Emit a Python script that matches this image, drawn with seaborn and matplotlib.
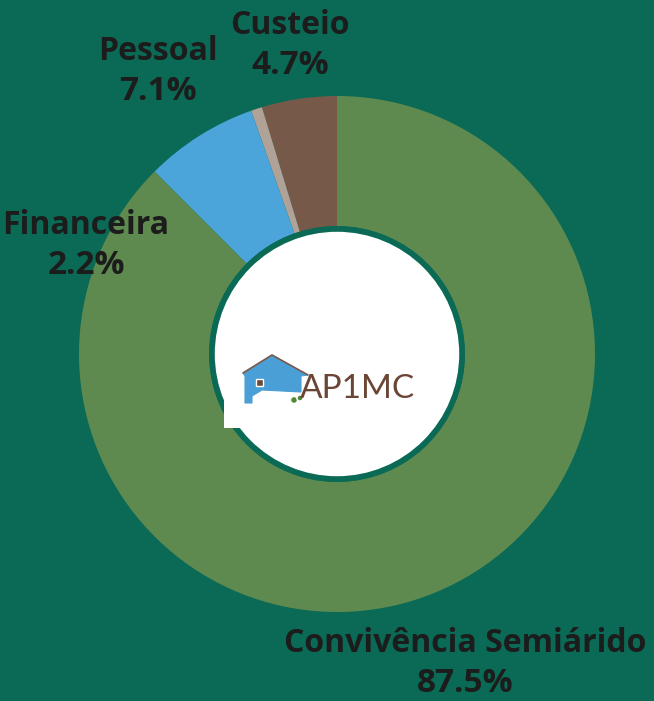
import seaborn as sns
import matplotlib.pyplot as plt
from matplotlib.patches import Circle, Rectangle, Polygon

# Dados (fatias no sentido anti-horário a partir do topo)
categorias = ['Custeio', 'Financeira', 'Pessoal', 'Convivência Semiárido']
valores = [4.7, 0.7, 7.1, 87.5]
rotulos_pct = ['4.7%', '2.2%', '7.1%', '87.5%']
cores = ['#765948', '#b1a298', '#4ba5da', '#5e8a50']

fundo = '#0a6a55'
W, H = 654, 701

sns.set_style('white')
plt.rcParams['font.family'] = ['Open Sans', 'DejaVu Sans']

fig = plt.figure(figsize=(W / 100, H / 100), dpi=100, facecolor=fundo)
ax = fig.add_axes([0, 0, 1, 1])
ax.set_facecolor(fundo)

cx, cy, R = 337, H - 354, 258
ax.pie(valores, colors=cores, startangle=90, counterclock=True,
       center=(cx, cy), radius=R, wedgeprops=dict(width=R - 128, linewidth=0))

# círculo central
ax.add_patch(Circle((cx, cy), 125, facecolor='white', edgecolor=fundo, linewidth=4, zorder=3))

# logo (aproximação)
ax.add_patch(Rectangle((224, H - 428), 206, 90, facecolor='white', edgecolor='none', zorder=4))
casa = [(243, 373), (272, 355), (308, 375), (301, 376), (301, 392), (262, 390),
        (252, 396), (252, 403), (245, 403), (245, 376)]
ax.add_patch(Polygon([(x, H - y) for x, y in casa], closed=True, facecolor='#4a9fd6',
                     edgecolor='#4a9fd6', linewidth=0.8, zorder=5))
ax.plot([243, 272, 308], [H - 373, H - 355, H - 375], color='#7a5a4a', lw=1.2, zorder=6)
ax.add_patch(Rectangle((256, H - 386), 7, 7, facecolor='#6b4a3a', zorder=6))
ax.add_patch(Circle((294, H - 400), 3.5, facecolor='#4f8a3a', zorder=6))
ax.add_patch(Circle((300, H - 398), 3, facecolor='#4f8a3a', zorder=6))
ax.text(300, H - 389, 'AP1MC', fontsize=24, color='#6b4535', family=['Lato', 'DejaVu Sans'],
        ha='left', va='center', zorder=6)

# rótulos
posicoes = {'Custeio': (290, 25), 'Financeira': (86, 225),
            'Pessoal': (158, 52), 'Convivência Semiárido': (465, 643)}
for cat, pct in zip(categorias, rotulos_pct):
    x, y = posicoes[cat]
    ax.text(x, H - y, cat, fontsize=23, fontweight='bold', color='#1c1c1c',
            ha='center', va='center')
    ax.text(x, H - y - 40, pct, fontsize=24, fontweight='bold', color='#1c1c1c',
            ha='center', va='center')

ax.set_xlim(0, W)
ax.set_ylim(0, H)
ax.set_aspect('equal')
ax.axis('off')

plt.savefig('out.png', dpi=100, facecolor=fundo)
